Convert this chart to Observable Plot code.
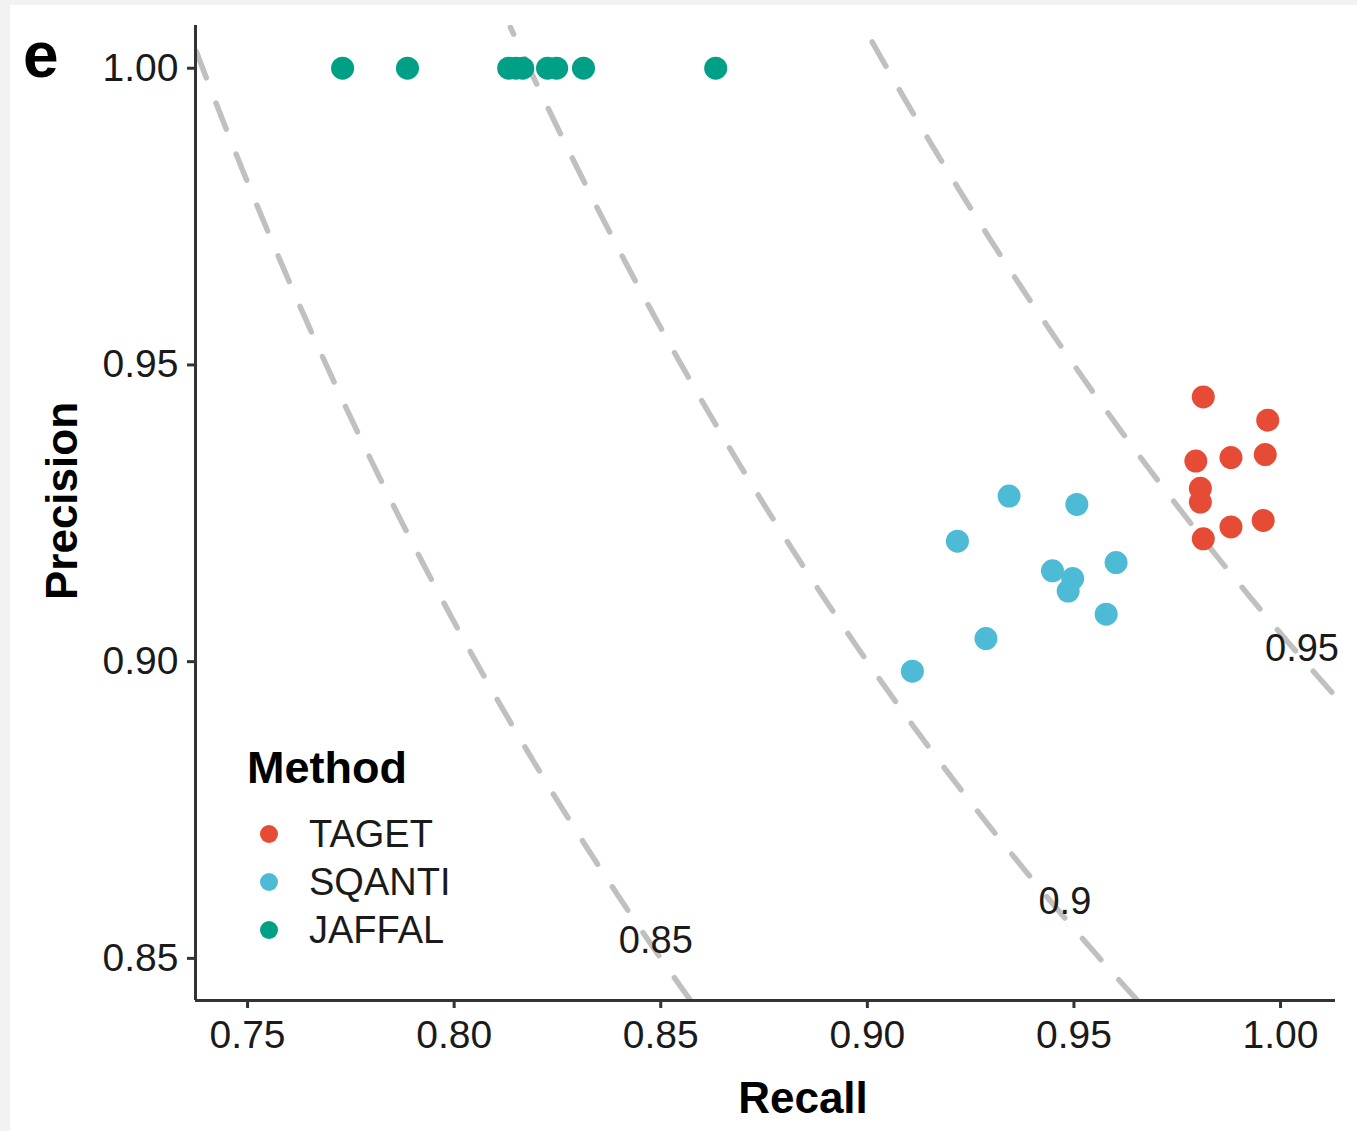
<!DOCTYPE html>
<html><head><meta charset="utf-8">
<script src="https://cdn.jsdelivr.net/npm/d3@7"></script>
<script src="https://cdn.jsdelivr.net/npm/@observablehq/plot@0.6"></script>
<style>
html,body{margin:0;padding:0;background:#f2f2f2;}
#wrap{position:relative;width:1357px;height:1131px;overflow:hidden;}
#panel{position:absolute;left:10px;top:5px;right:0;bottom:0;background:#fff;}
#chart{position:absolute;left:0;top:0;}
</style></head><body>
<div id="wrap"><div id="panel"></div><div id="chart"></div></div>
<script>
// ---- data ----
const methods = ["TAGET", "SQANTI", "JAFFAL"];
const methodColors = ["#E64B35", "#4DBBD5", "#00A087"];

const tagetRecall    = [0.9813, 0.9969, 0.9795, 0.9880, 0.9963, 0.9806, 0.9806, 0.9880, 0.9958, 0.9813];
const tagetPrecision = [0.9446, 0.9407, 0.9338, 0.9344, 0.9349, 0.9292, 0.9269, 0.9227, 0.9238, 0.9207];

const sqantiRecall    = [0.9343, 0.9507, 0.9218, 0.9602, 0.9448, 0.9497, 0.9486, 0.9578, 0.9287, 0.9109];
const sqantiPrecision = [0.9279, 0.9265, 0.9203, 0.9167, 0.9153, 0.9140, 0.9119, 0.9080, 0.9039, 0.8984];

const jaffalRecall    = [0.7730, 0.7887, 0.8132, 0.8149, 0.8166, 0.8226, 0.8248, 0.8313, 0.8633];
const jaffalPrecision = [1.00, 1.00, 1.00, 1.00, 1.00, 1.00, 1.00, 1.00, 1.00];

// iso-F1 reference levels and their label positions
const fLevels = [0.85, 0.9, 0.95];
const fLabelText = ["0.85", "0.9", "0.95"];
const fLabelRecall = [0.8488, 0.9478, 1.0052];
const fLabelPrecision = [0.8529, 0.8596, 0.9022];

const xTicks = [0.75, 0.80, 0.85, 0.90, 0.95, 1.00];
const yTicks = [0.85, 0.90, 0.95, 1.00];
const xDomain = [0.7374, 1.0133];
const yDomain = [0.8429, 1.0072];

// ---- build tables ----
const points = [];
[[tagetRecall, tagetPrecision], [sqantiRecall, sqantiPrecision], [jaffalRecall, jaffalPrecision]]
  .forEach(([rs, ps], i) => rs.forEach((r, j) => points.push({method: methods[i], recall: r, precision: ps[j]})));

// iso-F1 curves: recall = F*P / (2P - F)
const isoData = [];
fLevels.forEach(f => {
  d3.range(yDomain[0], yDomain[1] + 0.0005, 0.002).forEach(p => {
    isoData.push({f, precision: p, recall: f * p / (2 * p - f)});
  });
});
const fLabels = fLabelText.map((t, i) => ({text: t, recall: fLabelRecall[i], precision: fLabelPrecision[i]}));

const font = "'Liberation Sans', Arial, Helvetica, sans-serif";
const axisCol = "#333333";
const textCol = "#1a1a1a";

const plot = Plot.plot({
  width: 1357, height: 1131,
  marginLeft: 195, marginRight: 22, marginTop: 25, marginBottom: 131,
  style: {fontFamily: font, background: "transparent", overflow: "visible"},
  x: {domain: xDomain},
  y: {domain: yDomain},
  color: {domain: methods, range: methodColors},
  marks: [
    Plot.line(isoData, {x: "recall", y: "precision", z: "f", stroke: "#c0c0c0", strokeWidth: 5.5, strokeDasharray: "28,27", clip: true}),
    Plot.text(fLabels, {x: "recall", y: "precision", text: "text", fontSize: 38, fill: textCol}),
    Plot.dot(points, {x: "recall", y: "precision", fill: "method", r: 11.5}),
    Plot.axisX({ticks: xTicks, tickFormat: d3.format(".2f"), tickSize: 8, tickPadding: 12, fontSize: 39, label: null, stroke: axisCol, strokeWidth: 3, fill: textCol}),
    Plot.axisY({ticks: yTicks, tickFormat: d3.format(".2f"), tickSize: 8, tickPadding: 9, fontSize: 39, label: null, stroke: axisCol, strokeWidth: 3, fill: textCol}),
    Plot.ruleX([xDomain[0]], {stroke: axisCol, strokeWidth: 3}),
    Plot.ruleY([yDomain[0]], {stroke: axisCol, strokeWidth: 3})
  ]
});

const svg = d3.select(plot);
svg.append("text").attr("x", 23).attr("y", 77).attr("text-anchor", "start").attr("font-family", font).attr("font-weight", "bold")
  .attr("font-size", 64).attr("fill", "#000").text("e");
svg.append("text").attr("transform", "translate(77,501) rotate(-90)").attr("text-anchor", "middle")
  .attr("font-family", font).attr("font-weight", "bold").attr("font-size", 44).attr("fill", "#000").text("Precision");
svg.append("text").attr("x", 803).attr("y", 1113).attr("text-anchor", "middle")
  .attr("font-family", font).attr("font-weight", "bold").attr("font-size", 44).attr("fill", "#000").text("Recall");

// legend
const lg = svg.append("g").attr("text-anchor", "start");
lg.append("text").attr("x", 247).attr("y", 783).attr("text-anchor", "start").attr("font-family", font).attr("font-weight", "bold")
  .attr("font-size", 45).attr("fill", "#000").text("Method");
methods.forEach((m, i) => {
  const cy = 834 + i * 48;
  lg.append("circle").attr("cx", 269).attr("cy", cy).attr("r", 9).attr("fill", methodColors[i]);
  lg.append("text").attr("x", 309).attr("y", cy + 13).attr("text-anchor", "start").attr("font-family", font)
    .attr("font-size", 38).attr("fill", textCol).text(m);
});

document.getElementById("chart").appendChild(plot);
</script>
</body></html>
